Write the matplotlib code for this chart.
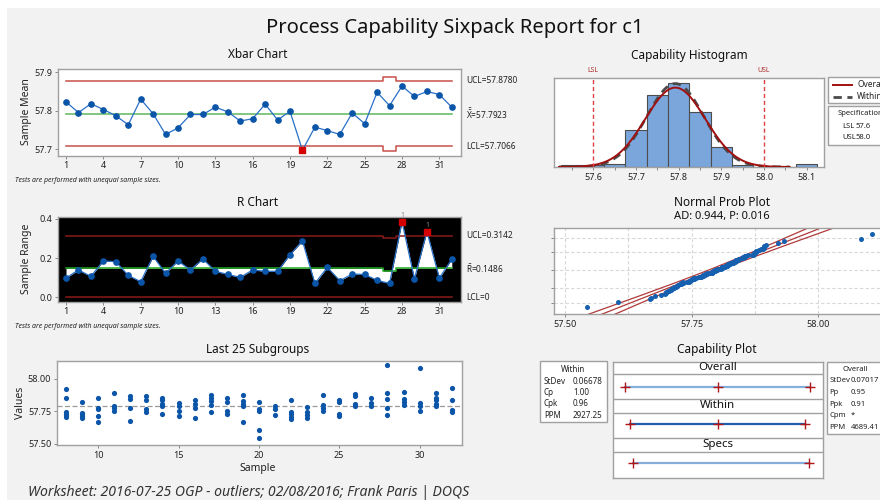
import numpy as np
import matplotlib
matplotlib.use('Agg')
import matplotlib.pyplot as plt
from matplotlib.patches import Rectangle
import matplotlib.transforms as mtrans
from statistics import NormalDist

plt.rcParams['font.family'] = ['Noto Sans', 'DejaVu Sans']
plt.rcParams['mathtext.fontset'] = 'custom'
plt.rcParams['mathtext.rm'] = 'Noto Sans'
plt.rcParams['mathtext.it'] = 'Noto Sans:italic'

# ---------------- data ----------------
samples = np.arange(1, 33)
xbar = [57.823, 57.795, 57.818, 57.803, 57.787, 57.763, 57.830, 57.792, 57.738, 57.755,
        57.790, 57.790, 57.809, 57.797, 57.773, 57.779, 57.817, 57.776, 57.798, 57.697,
        57.757, 57.748, 57.738, 57.794, 57.766, 57.848, 57.813, 57.864, 57.837, 57.850,
        57.842, 57.809]
ranges = [0.099, 0.140, 0.107, 0.186, 0.182, 0.112, 0.080, 0.209, 0.123, 0.186,
          0.140, 0.196, 0.133, 0.117, 0.102, 0.140, 0.133, 0.133, 0.218, 0.288,
          0.071, 0.153, 0.085, 0.119, 0.117, 0.087, 0.071, 0.386, 0.095, 0.335,
          0.099, 0.194]
xbar_ucl, xbar_center, xbar_lcl = 57.8780, 57.7923, 57.7066
xbar_ucl_s27, xbar_lcl_s27 = 57.889, 57.696
r_ucl, r_center, r_lcl = 0.3142, 0.1486, 0.0
r_ucl_s27, r_center_s27 = 0.301, 0.134
xbar_flagged = [20]
r_flagged = [28, 30]

subgroups_1_7 = [
    [57.775, 57.810, 57.825, 57.831, 57.874],
    [57.720, 57.780, 57.800, 57.815, 57.860],
    [57.765, 57.800, 57.820, 57.833, 57.872],
    [57.705, 57.790, 57.810, 57.819, 57.891],
    [57.700, 57.770, 57.790, 57.793, 57.882],
    [57.710, 57.745, 57.765, 57.773, 57.822],
    [57.790, 57.820, 57.832, 57.838, 57.870],
]
last25_samples = list(range(8, 33))
subgroups_8_32 = [
    [57.92, 57.85, 57.749, 57.733, 57.721, 57.708],
    [57.823, 57.741, 57.728, 57.715, 57.703],
    [57.851, 57.78, 57.772, 57.715, 57.669],
    [57.892, 57.795, 57.774, 57.754],
    [57.872, 57.844, 57.779, 57.677],
    [57.872, 57.836, 57.769, 57.746],
    [57.856, 57.836, 57.81, 57.792, 57.733],
    [57.813, 57.792, 57.756, 57.713],
    [57.841, 57.81, 57.777, 57.7],
    [57.879, 57.854, 57.828, 57.803, 57.746],
    [57.851, 57.826, 57.754, 57.728],
    [57.877, 57.831, 57.81, 57.795, 57.667],
    [57.823, 57.769, 57.751, 57.605, 57.544],
    [57.795, 57.772, 57.723],
    [57.838, 57.749, 57.728, 57.708, 57.69],
    [57.785, 57.749, 57.723, 57.697],
    [57.877, 57.803, 57.779, 57.754],
    [57.838, 57.821, 57.733, 57.718],
    [57.887, 57.869, 57.808, 57.795],
    [57.856, 57.815, 57.79],
    [58.105, 57.892, 57.844, 57.777, 57.726],
    [57.897, 57.844, 57.821, 57.8],
    [58.085, 57.818, 57.795, 57.754],
    [57.892, 57.856, 57.836, 57.81, 57.79],
    [57.933, 57.841, 57.759, 57.744],
]

hist_bin_lefts = [57.525, 57.575, 57.625, 57.675, 57.725, 57.775, 57.825, 57.875,
                  57.925, 57.975, 58.025, 58.075]
hist_counts = [1, 1, 2, 22, 43, 50, 33, 12, 1, 0, 0, 2]
hist_bin_width = 0.05
n_total = sum(hist_counts)

LSL, USL = 57.6, 58.0
mean_all = 57.7923
sd_within = 0.06678
sd_overall = 0.07017

within_stats = [("StDev", "0.06678"), ("Cp", "1.00"), ("Cpk", "0.96"), ("PPM", "2927.25")]
overall_stats = [("StDev", "0.07017"), ("Pp", "0.95"), ("Ppk", "0.91"), ("Cpm", "*"), ("PPM", "4689.41")]

xbar_ticks = [1, 4, 7, 10, 13, 16, 19, 22, 25, 28, 31]

# ---------------- figure ----------------
W, H = 880, 500
fig = plt.figure(figsize=(8.8, 5.0), dpi=100, facecolor='#f2f2f2')


def add_ax(x0, y0, x1, y1, **kw):
    return fig.add_axes([x0 / W, 1 - y1 / H, (x1 - x0) / W, (y1 - y0) / H], **kw)


def ftext(x, y, s, **kw):
    kw.setdefault('va', 'center')
    return fig.text(x / W, 1 - y / H, s, **kw)


# overlay for white margins & boxes
ov = add_ax(0, 0, W, H)
ov.set_xlim(0, W)
ov.set_ylim(H, 0)
ov.axis('off')
ov.set_zorder(-1)
ov.add_patch(Rectangle((0, 0), W, 8, facecolor='white', edgecolor='none'))
ov.add_patch(Rectangle((0, 0), 7, H, facecolor='white', edgecolor='none'))

SPINE = '#a0a0a0'
TXT = '#222222'


def style(ax, ticksize=6.5):
    for s in ax.spines.values():
        s.set_color(SPINE)
        s.set_linewidth(1.0)
    ax.tick_params(direction='out', length=2.5, width=0.6, color='#777777',
                   labelsize=ticksize, labelcolor=TXT, pad=1.5)


ftext(455, 28, "Process Capability Sixpack Report for c1", ha='center', fontsize=14.5, color='#111111')

# ---------------- Xbar chart ----------------
ax1 = add_ax(58.3, 69.3, 461, 155.7)
style(ax1)
ax1.set_xlim(0.38, 32.74)
ax1.set_ylim(57.6826, 57.9078)
stepx = [1, 26.5, 26.5, 27.5, 27.5, 32]
ax1.plot(stepx, [xbar_ucl, xbar_ucl, xbar_ucl_s27, xbar_ucl_s27, xbar_ucl, xbar_ucl], color='#c8504a', lw=1.1)
ax1.plot(stepx, [xbar_lcl, xbar_lcl, xbar_lcl_s27, xbar_lcl_s27, xbar_lcl, xbar_lcl], color='#c8504a', lw=1.1)
ax1.plot([1, 32], [xbar_center, xbar_center], color='#5cb85c', lw=1.1)
ax1.plot(samples, xbar, color='#2a70c8', lw=0.9, marker='o', ms=3.8, mfc='#0b55a8', mec='#0b55a8')
for s in xbar_flagged:
    ax1.plot([s], [xbar[s - 1]], marker='s', ms=5, color='#d40000', ls='none')
ax1.set_xticks(xbar_ticks)
ax1.set_yticks([57.7, 57.8, 57.9])
ax1.set_yticklabels(['57.7', '57.8', '57.9'])
ftext(258, 55, "Xbar Chart", ha='center', fontsize=8.5, color='#111111')
ftext(26, 112, "Sample Mean", rotation=90, ha='center', fontsize=7.5, color=TXT)
tr1 = mtrans.blended_transform_factory(fig.transFigure, ax1.transData)
ax1.text(466 / W, xbar_ucl, "UCL=57.8780", transform=tr1, fontsize=6, va='center', color=TXT)
ax1.text(466 / W, xbar_center, r"$\bar{\bar{\mathrm{X}}}$=57.7923", transform=tr1, fontsize=6, va='center', color=TXT)
ax1.text(466 / W, xbar_lcl, "LCL=57.7066", transform=tr1, fontsize=6, va='center', color=TXT)
ftext(15, 180, "Tests are performed with unequal sample sizes.", fontsize=5, style='italic', color=TXT)

# ---------------- R chart ----------------
ax2 = add_ax(58.3, 217.3, 461, 301.7)
style(ax2)
ax2.set_facecolor('black')
ax2.set_xlim(0.38, 32.74)
ax2.set_ylim(-0.0221, 0.4085)
xf = np.linspace(1, 32, 3101)
rf = np.interp(xf, samples, ranges)
cf = np.where((xf >= 26.5) & (xf < 27.5), r_center_s27, r_center)
ax2.fill_between(xf, rf, cf, color='white', lw=0)
ax2.plot(stepx, [r_ucl, r_ucl, r_ucl_s27, r_ucl_s27, r_ucl, r_ucl], color='#8b1a1a', lw=1.1)
ax2.plot([1, 32], [r_lcl, r_lcl], color='#8b1a1a', lw=1.1)
ax2.plot(stepx, [r_center, r_center, r_center_s27, r_center_s27, r_center, r_center], color='#1fa81f', lw=1.1)
ax2.plot(samples, ranges, color='#2a70c8', lw=0.9, marker='o', ms=3.8, mfc='#0b55a8', mec='#0b55a8')
for s in r_flagged:
    ax2.plot([s], [ranges[s - 1]], marker='s', ms=5, color='#d40000', ls='none')
    ax2.text(s, ranges[s - 1] + 0.012, "1", ha='center', va='bottom', fontsize=5, color='#888888')
ax2.set_xticks(xbar_ticks)
ax2.set_yticks([0.0, 0.2, 0.4])
ax2.set_yticklabels(['0.0', '0.2', '0.4'])
ftext(258, 202.7, "R Chart", ha='center', fontsize=8.5, color='#111111')
ftext(26, 259, "Sample Range", rotation=90, ha='center', fontsize=7.5, color=TXT)
tr2 = mtrans.blended_transform_factory(fig.transFigure, ax2.transData)
ax2.text(466 / W, r_ucl, "UCL=0.3142", transform=tr2, fontsize=6, va='center', color=TXT)
ax2.text(466 / W, r_center, r"$\bar{\mathrm{R}}$=0.1486", transform=tr2, fontsize=6, va='center', color=TXT)
ax2.text(466 / W, r_lcl, "LCL=0", transform=tr2, fontsize=6, va='center', color=TXT)
ftext(15, 327, "Tests are performed with unequal sample sizes.", fontsize=5, style='italic', color=TXT)

# ---------------- Last 25 subgroups ----------------
ax3 = add_ax(56.7, 361, 461.7, 445)
style(ax3)
ax3.set_xlim(7.42, 32.62)
ax3.set_ylim(57.492, 58.138)
ax3.axhline(xbar_center, color='#9a9a9a', lw=0.9, ls=(0, (4, 2)))
for s, vals in zip(last25_samples, subgroups_8_32):
    ax3.scatter([s] * len(vals), vals, s=14, color='#0b55a8', lw=0, zorder=3)
ax3.set_xticks([10, 15, 20, 25, 30])
ax3.set_yticks([57.5, 57.75, 58.0])
ax3.set_yticklabels(['57.50', '57.75', '58.00'])
ftext(258, 349, "Last 25 Subgroups", ha='center', fontsize=8.5, color='#111111')
ftext(258, 469, "Sample", ha='center', fontsize=7.5, color=TXT)
ftext(20, 403, "Values", rotation=90, ha='center', fontsize=7.5, color=TXT)

# ---------------- Capability histogram ----------------
ax4 = add_ax(554.3, 77.7, 824.3, 167)
style(ax4)
ax4.set_xlim(57.509, 58.141)
ax4.set_ylim(0, 53.4)
ax4.bar(hist_bin_lefts, hist_counts, width=hist_bin_width, align='edge',
        color='#7aa6dc', edgecolor='#4d4d4d', lw=0.8, zorder=2)
xx = np.linspace(57.52, 58.06, 400)
scale = n_total * hist_bin_width
dens_o = scale * np.exp(-0.5 * ((xx - mean_all) / sd_overall) ** 2) / (sd_overall * np.sqrt(2 * np.pi))
dens_w = scale * np.exp(-0.5 * ((xx - mean_all) / sd_within) ** 2) / (sd_within * np.sqrt(2 * np.pi))
ax4.plot(xx, dens_w, color='#4a4a4a', lw=2.0, ls=(0, (3, 2)), zorder=3)
ax4.plot(xx, dens_o, color='#a01010', lw=1.4, zorder=4)
for v in (LSL, USL):
    ax4.axvline(v, color='#e04040', lw=1.0, ls=(0, (3, 2)), zorder=5)
tr4 = mtrans.blended_transform_factory(ax4.transData, ax4.transAxes)
ax4.text(LSL, 1.04, "LSL", transform=tr4, ha='center', va='bottom', fontsize=5, color='#b03030')
ax4.text(USL, 1.04, "USL", transform=tr4, ha='center', va='bottom', fontsize=5, color='#b03030')
ax4.set_xticks([57.6, 57.7, 57.8, 57.9, 58.0, 58.1])
ax4.set_xticklabels(['57.6', '57.7', '57.8', '57.9', '58.0', '58.1'])
ax4.set_xticks([57.55, 57.65, 57.75, 57.85, 57.95, 58.05], minor=True)
ax4.tick_params(which='minor', direction='out', length=2, width=0.6, color='#777777')
ax4.set_yticks([])
ftext(689, 55.7, "Capability Histogram", ha='center', fontsize=8.5, color='#111111')

# legend boxes (right side, clipped by figure edge as in the report)
ov.add_patch(Rectangle((828.3, 76.7), 80, 26.6, facecolor='white', edgecolor=SPINE, lw=1))
ov.plot([833, 852], [84.7, 84.7], color='#a01010', lw=1.4)
ov.plot([833, 852], [96.7, 96.7], color='#4a4a4a', lw=2.0, ls=(0, (3, 2)))
ov.text(857, 84.7, "Overall", fontsize=6, va='center', color=TXT)
ov.text(857, 96.7, "Within", fontsize=6, va='center', color=TXT)
ov.add_patch(Rectangle((828.3, 106), 80, 39, facecolor='white', edgecolor=SPINE, lw=1))
ov.text(837.3, 113.3, "Specifications", fontsize=5.5, va='center', color=TXT)
ov.text(842.7, 126, "LSL", fontsize=5.5, va='center', color=TXT)
ov.text(856, 126, "57.6", fontsize=5.5, va='center', color=TXT)
ov.text(842.7, 137.7, "USL", fontsize=5.5, va='center', color=TXT)
ov.text(856, 137.7, "58.0", fontsize=5.5, va='center', color=TXT)

# ---------------- Normal probability plot ----------------
ax5 = add_ax(554, 227.7, 900, 314)
style(ax5)
ax5.set_xlim(57.478, 58.161)
ax5.set_ylim(-3.12, 3.05)
nd = NormalDist()
all_vals = np.sort(np.concatenate([np.concatenate(subgroups_1_7), np.concatenate(subgroups_8_32)]))
n = len(all_vals)
zpos = np.array([nd.inv_cdf((i - 0.3) / (n + 0.4)) for i in range(1, n + 1)])
for gx in [57.5, 57.625, 57.75, 57.875, 58.0, 58.125]:
    ax5.axvline(gx, color='#d8d8d8', lw=0.8, ls=(0, (3, 2)), zorder=0)
for p in [0.01, 0.10, 0.50, 0.90, 0.99]:
    ax5.axhline(nd.inv_cdf(p), color='#d8d8d8', lw=0.8, ls=(0, (3, 2)), zorder=0)
zz = np.linspace(-3.2, 3.2, 200)
fit = mean_all + zz * sd_overall
band = 1.96 * sd_overall * np.sqrt(1.0 / n_total + zz ** 2 / (2 * (n_total - 1)))
ax5.plot(fit, zz, color='#b03a3a', lw=0.9)
ax5.plot(fit - band, zz, color='#b03a3a', lw=0.9)
ax5.plot(fit + band, zz, color='#b03a3a', lw=0.9)
ax5.scatter(all_vals, zpos, s=13, color='#1660b0', lw=0, zorder=3)
ax5.set_xticks([57.5, 57.75, 58.0])
ax5.set_xticklabels(['57.50', '57.75', '58.00'])
ax5.set_yticks([nd.inv_cdf(p) for p in [0.01, 0.10, 0.50, 0.90, 0.99]])
ax5.set_yticklabels([])
ftext(722, 202.3, "Normal Prob Plot", ha='center', fontsize=8.5, color='#111111')
ftext(722, 216.7, "AD: 0.944, P: 0.016", ha='center', fontsize=8, color='#111111')

# ---------------- Capability plot ----------------
ax6 = add_ax(612.7, 361.7, 822.7, 477.7)
ax6.set_xlim(57.553, 58.032)
ax6.set_ylim(116, 0)
ax6.set_xticks([])
ax6.set_yticks([])
for s in ax6.spines.values():
    s.set_color(SPINE)
    s.set_linewidth(1.0)
for yb in [12.6, 37.3, 51, 76.6, 90]:
    ax6.axhline(yb, color=SPINE, lw=1.0)
tr6 = mtrans.blended_transform_factory(ax6.transAxes, ax6.transData)
for label, yc in [("Overall", 6.3), ("Within", 44.2), ("Specs", 83.3)]:
    ax6.text(0.5, yc, label, transform=tr6, ha='center', va='center', fontsize=8.3, color='#111111')
rows = [
    (mean_all - 3 * sd_overall, mean_all, mean_all + 3 * sd_overall, 25.0, '#86aedd'),
    (mean_all - 3 * sd_within, mean_all, mean_all + 3 * sd_within, 62.6, '#1f5fb0'),
]
for lo, mid, hi, yy, col in rows:
    ax6.plot([lo, hi], [yy, yy], color=col, lw=1.6)
    ax6.plot([lo, mid, hi], [yy] * 3, ls='none', marker='+', ms=7, mew=1.0, color='#b01818')
ax6.plot([LSL, USL], [101.6, 101.6], color='#86aedd', lw=1.6)
ax6.plot([LSL, USL], [101.6, 101.6], ls='none', marker='+', ms=7, mew=1.0, color='#b01818')
ftext(717, 349, "Capability Plot", ha='center', fontsize=8.5, color='#111111')

# stat boxes
ov.add_patch(Rectangle((540, 361), 67, 61, facecolor='white', edgecolor=SPINE, lw=1))
ov.text(573.5, 369, "Within", fontsize=5.8, ha='center', va='center', color=TXT)
for (lab, val), yy in zip(within_stats, [381, 392.3, 404, 415.7]):
    ov.text(544, yy, lab, fontsize=5.8, va='center', color=TXT)
    ov.text(573, yy, val, fontsize=5.8, va='center', color=TXT)
ov.add_patch(Rectangle((827.3, 362), 80, 72, facecolor='white', edgecolor=SPINE, lw=1))
ov.text(855, 369.5, "Overall", fontsize=5.5, ha='center', va='center', color=TXT)
for (lab, val), yy in zip(overall_stats, [381, 392.3, 404, 415.7, 427.3]):
    ov.text(829.5, yy, lab, fontsize=5.5, va='center', color=TXT)
    ov.text(850.5, yy, val, fontsize=5.5, va='center', color=TXT)

# footer
ftext(28, 492, "Worksheet: 2016-07-25 OGP - outliers; 02/08/2016; Frank Paris | DOQS",
      fontsize=10.1, style='italic', color='#333333')

fig.savefig('out.png', dpi=100, facecolor=fig.get_facecolor())
